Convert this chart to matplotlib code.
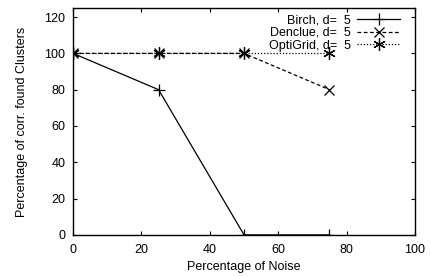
import matplotlib
matplotlib.use('Agg')
import matplotlib.pyplot as plt

noise = [0, 25, 50, 75]
birch = [100, 80, 0, 0]
denclue = [100, 100, 100, 80]
optigrid = [100, 100, 100, 100]

plt.rcParams['font.family'] = ['Liberation Sans', 'DejaVu Sans']
plt.rcParams['font.size'] = 9

fig = plt.figure(figsize=(4.3, 2.76), dpi=100)
# axes box: x 73..415 px, y 8..235 px
ax = fig.add_axes([0.170, 0.149, 0.795, 0.822])

ax.plot(noise, birch, color='black', lw=0.9, ls='-', marker='+', ms=8,
        mew=0.9, label='Birch, d=  5')
ax.plot(noise, denclue, color='black', lw=0.9, ls=(0, (3, 2)), marker='x',
        ms=7.5, mew=0.9, label='Denclue, d=  5')
ax.plot(noise, optigrid, color='black', lw=0.9, ls=(0, (1, 1.5)),
        marker=(6, 2, 0), ms=9, mew=0.9, label='OptiGrid, d=  5')

ax.set_xlim(0, 100)
ax.set_ylim(0, 125)
ax.set_xticks(range(0, 101, 20))
ax.set_yticks(range(0, 121, 20))
ax.tick_params(direction='in', top=True, right=True, length=3, width=0.8)
ax.tick_params(axis='y', pad=5.5)
ax.tick_params(axis='x', pad=6.5)
for s in ax.spines.values():
    s.set_linewidth(1.0)

ax.set_xlabel('Percentage of Noise', labelpad=4)
ax.set_ylabel('Percentage of corr. found Clusters', labelpad=12)

ax.legend(loc='upper right', bbox_to_anchor=(0.956, 0.972),
          markerfirst=False, frameon=False, numpoints=1,
          handlelength=3.4, handletextpad=0.55, labelspacing=0.05,
          borderaxespad=0, borderpad=0)

fig.savefig('out.png', dpi=100)
